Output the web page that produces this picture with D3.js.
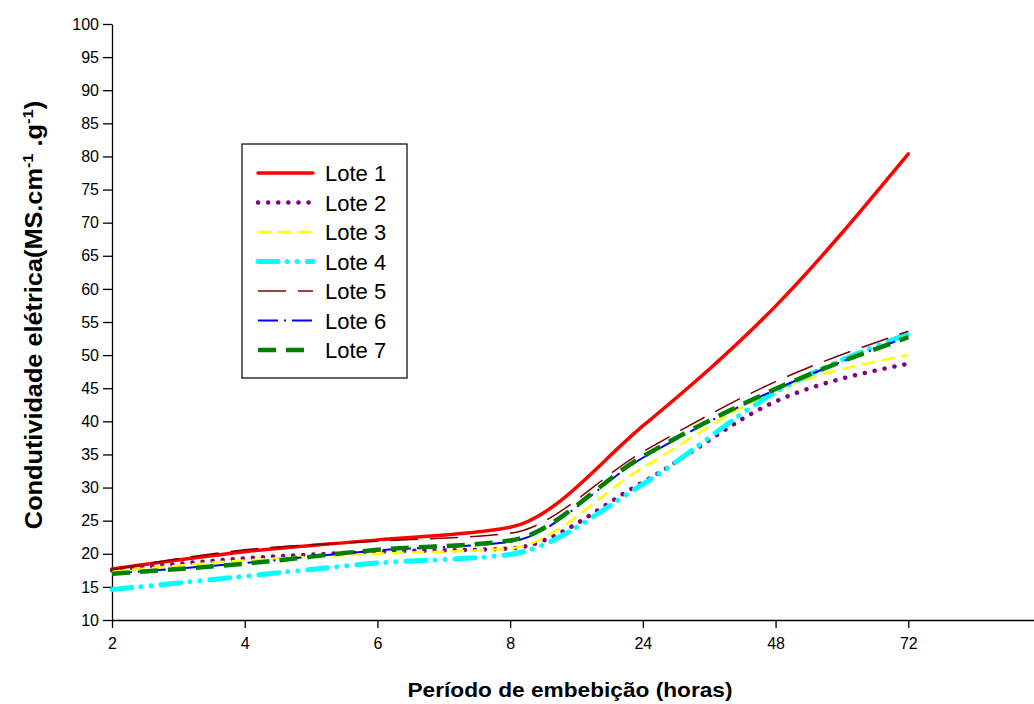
<!DOCTYPE html>
<html>
<head>
<meta charset="utf-8">
<script src="https://cdn.jsdelivr.net/npm/d3@7"></script>
<style>
  body { margin: 0; background: #fff; }
  text { font-family: Arial, "Liberation Sans", sans-serif; }
</style>
</head>
<body>
<div id="chart"></div>
<script>
// Dimensions
const width = 1034;
const height = 704;

// Données
const periodes = ["2", "4", "6", "8", "24", "48", "72"];
const yTicks = d3.range(10, 101, 5);

const lote1 = [17.7, 20.3, 22.1, 24.0, 39.3, 57.4, 80.4];
const lote2 = [17.5, 19.3, 20.3, 20.8, 30.8, 43.0, 48.7];
const lote3 = [17.3, 19.0, 20.0, 20.8, 33.0, 44.6, 50.0];
const lote4 = [14.6, 16.6, 18.6, 19.9, 30.5, 44.4, 53.2];
const lote5 = [17.6, 20.6, 21.9, 23.1, 35.4, 46.0, 53.6];
const lote6 = [17.0, 18.6, 20.5, 21.8, 34.5, 44.8, 52.8];
const lote7 = [17.0, 18.5, 20.6, 22.0, 34.7, 44.9, 52.7];

const series = [
  { nom: "Lote 1", valeurs: lote1, couleur: "#ff0000", largeur: 3.5, tirets: null, cap: "round" },
  { nom: "Lote 2", valeurs: lote2, couleur: "#800080", largeur: 4.5, tirets: "0.1 10", cap: "round" },
  { nom: "Lote 3", valeurs: lote3, couleur: "#ffff00", largeur: 2.5, tirets: "13 7", cap: "butt" },
  { nom: "Lote 4", valeurs: lote4, couleur: "#00ffff", largeur: 5, tirets: "20 9 0.1 10 0.1 10", cap: "round" },
  { nom: "Lote 5", valeurs: lote5, couleur: "#800000", largeur: 1.5, tirets: "28 12", cap: "butt" },
  { nom: "Lote 6", valeurs: lote6, couleur: "#0000ff", largeur: 2, tirets: "20 6 2 6", cap: "butt" },
  { nom: "Lote 7", valeurs: lote7, couleur: "#008000", largeur: 4.5, tirets: "18 10", cap: "butt" }
];

const svg = d3.select("#chart")
  .append("svg")
  .attr("width", width)
  .attr("height", height);

// Echelles (x = index de la période)
const x = d3.scaleLinear().domain([0, 7]).range([112, 1041]);
const y = d3.scaleLinear().domain([10, 100]).range([620, 24]);

// Axe X
const axeX = svg.append("g")
  .attr("transform", `translate(0,${y(10)})`)
  .call(d3.axisBottom(x)
    .tickValues(d3.range(periodes.length))
    .tickFormat(i => periodes[i])
    .tickSize(8)
    .tickSizeOuter(0)
    .tickPadding(10));

// Axe Y
const axeY = svg.append("g")
  .attr("transform", `translate(${x(0)},0)`)
  .call(d3.axisLeft(y)
    .tickValues(yTicks)
    .tickSize(9)
    .tickSizeOuter(0)
    .tickPadding(4));

[axeX, axeY].forEach(g => {
  g.selectAll("path, line").attr("stroke", "#000").attr("stroke-width", 1.3);
  g.selectAll("text").attr("font-size", "16px").attr("fill", "#000")
    .attr("font-family", "Arial, 'Liberation Sans', sans-serif");
});

// Titres des axes
svg.append("text")
  .attr("x", 570)
  .attr("y", 697)
  .attr("text-anchor", "middle")
  .attr("font-size", "20px")
  .attr("font-weight", "bold")
  .attr("textLength", 325)
  .attr("lengthAdjust", "spacingAndGlyphs")
  .text("Período de embebição (horas)");

const titreY = svg.append("text")
  .attr("transform", "translate(42,315) rotate(-90) scale(1.1,1)")
  .attr("text-anchor", "middle")
  .attr("font-size", "23px")
  .attr("font-weight", "bold");
titreY.append("tspan").text("Condutividade elétrica(MS.cm");
titreY.append("tspan").attr("dy", -9).attr("font-size", "15px").text("-1");
titreY.append("tspan").attr("dy", 9).text(" .g");
titreY.append("tspan").attr("dy", -9).attr("font-size", "15px").text("-1");
titreY.append("tspan").attr("dy", 9).text(")");

// Courbes
const ligne = d3.line()
  .x((d, i) => x(i))
  .y(d => y(d))
  .curve(d3.curveMonotoneX);

svg.selectAll("path.lote")
  .data(series)
  .enter()
  .append("path")
  .attr("class", "lote")
  .attr("d", d => ligne(d.valeurs))
  .attr("fill", "none")
  .attr("stroke", d => d.couleur)
  .attr("stroke-width", d => d.largeur)
  .attr("stroke-dasharray", d => d.tirets)
  .attr("stroke-linecap", d => d.cap);

// Légende
const legende = svg.append("g");
legende.append("rect")
  .attr("x", 242)
  .attr("y", 144)
  .attr("width", 165)
  .attr("height", 234)
  .attr("fill", "#fff")
  .attr("stroke", "#000")
  .attr("stroke-width", 1.2);

const items = legende.selectAll("g.item")
  .data(series)
  .enter()
  .append("g")
  .attr("class", "item")
  .attr("transform", (d, i) => `translate(0,${173 + i * 29.5})`);

items.append("line")
  .attr("x1", 258)
  .attr("x2", 313)
  .attr("stroke", d => d.couleur)
  .attr("stroke-width", d => d.largeur)
  .attr("stroke-dasharray", d => d.tirets)
  .attr("stroke-linecap", d => d.cap);

items.append("text")
  .attr("x", 325)
  .attr("y", 8)
  .attr("font-size", "22px")
  .text(d => d.nom);
</script>
</body>
</html>
